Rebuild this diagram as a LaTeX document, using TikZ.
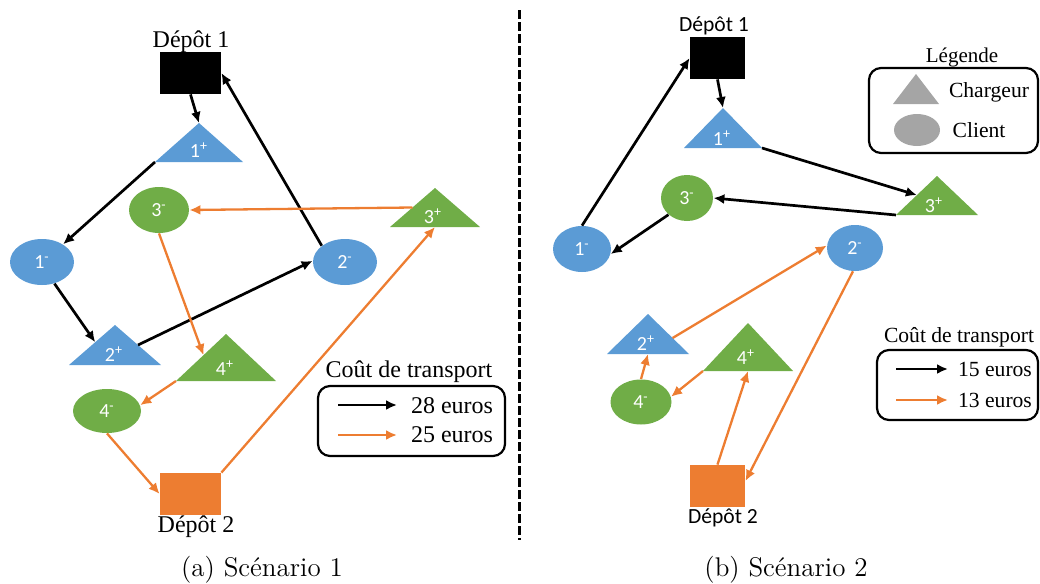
\documentclass[tikz,border=0pt]{standalone}
\usepackage{fontspec}
\newfontfamily\tnr{Liberation Serif}
\newfontfamily\calf{Carlito}
\usetikzlibrary{arrows.meta,calc,shapes.geometric}
\definecolor{cblue}{HTML}{5B9BD5}
\definecolor{cgreen}{HTML}{70AD47}
\definecolor{corange}{HTML}{ED7D31}
\definecolor{cgray}{HTML}{A5A5A5}
\newcommand\mytri[6]{%
  \coordinate (#1-a) at (#2,#3);
  \coordinate (#1-l) at ({#2-#5},#4);
  \coordinate (#1-r) at ({#2+#5},#4);
  \coordinate (#1-b) at (#2,#4);
  \fill[#6] (#1-a)--(#1-l)--(#1-r)--cycle;}
\tikzset{
  bk/.style={draw=black, line width=1.35pt, -{Latex[length=5.5pt,width=5pt]}},
  orr/.style={draw=corange, line width=1.15pt, -{Latex[length=5.5pt,width=5pt]}},
  ell/.style={ellipse, inner sep=0pt, text=white, font=\calf\fontsize{10}{10}\selectfont},
  lab/.style={inner sep=0pt, text=white, font=\calf\fontsize{10}{10}\selectfont},
  depot/.style={inner sep=0pt, draw=none},
  tl/.style={inner sep=0pt, font=\tnr\fontsize{12}{14}\selectfont},
  tr/.style={inner sep=0pt, font=\tnr\fontsize{10.8}{12}\selectfont},
  cl/.style={inner sep=0pt, font=\calf\fontsize{10.8}{12}\selectfont},
  legbox/.style={draw=black, line width=1.1pt, rounded corners=6pt, inner sep=0pt},
  captxt/.style={inner sep=0pt, font=\fontsize{13.5}{15}\selectfont},
}
\begin{document}
\begin{tikzpicture}[x=0.5pt,y=-0.5pt]
\useasboundingbox (0,0) rectangle (1040,584);
% ---------------- Scenario 1 ----------------
\node[tl] (l1d1) at (191,42) {Dépôt 1};
\node[depot, fill=black, minimum width=30.5pt, minimum height=21pt] (D1a) at (190.5,73) {};
\mytri{t1a}{199}{123}{162}{44}{cblue}
\node[lab] (n1pa) at (199,150) {1\textsuperscript{+}};
\node[ell, fill=cgreen, minimum width=30pt, minimum height=23pt] (e3m) at (159,210) {3\textsuperscript{-}};
\mytri{t3a}{435}{188}{227}{45}{cgreen}
\node[lab] (n3pa) at (433,216) {3\textsuperscript{+}};
\node[ell, fill=cblue, minimum width=32pt, minimum height=23pt] (e1m) at (42,262) {1\textsuperscript{-}};
\node[ell, fill=cblue, minimum width=32pt, minimum height=23pt] (e2m) at (345,262) {2\textsuperscript{-}};
\mytri{t2a}{115}{325}{365}{46}{cblue}
\node[lab] (n2pa) at (114,354) {2\textsuperscript{+}};
\mytri{t4a}{226}{334}{381}{50}{cgreen}
\node[lab] (n4pa) at (225,368) {4\textsuperscript{+}};
\node[ell, fill=cgreen, minimum width=34pt, minimum height=22pt] (e4m) at (107,411) {4\textsuperscript{-}};
\node[depot, fill=corange, minimum width=30.5pt, minimum height=21pt] (D2a) at (190.5,494) {};
\node[tl] (l1d2) at (196,527) {Dépôt 2};
% edges
\draw[bk] (D1a.south) -- (t1a-a);
\draw[bk] (t1a-l) -- (e1m.40);
\draw[bk] (e1m.-60) -- ($(t2a-a)!0.43!(t2a-l)$);
\draw[bk] ($(t2a-a)!0.5!(t2a-r)$) -- (e2m.178);
\draw[bk] (e2m.145) -- (D1a.east);
\draw[orr] ($(t3a-a)!0.5!(t3a-l)$) -- (e3m.east);
\draw[orr] (e3m.south) -- ($(t4a-a)!0.45!(t4a-l)$);
\draw[orr] (t4a-l) -- (e4m.10);
\draw[orr] (e4m.south) -- (D2a.west);
\draw[orr] (D2a.north east) -- (t3a-b);
% legend
\node[tl] (ctta) at (409,372) {Coût de transport};
\node[legbox, minimum width=93.5pt, minimum height=35pt] (lega) at (411.5,421) {};
\coordinate (la1s) at (338,405); \coordinate (la1e) at (397,405);
\coordinate (la2s) at (338,435); \coordinate (la2e) at (397,435);
\draw[bk] (la1s) -- (la1e);
\draw[orr] (la2s) -- (la2e);
\node[tl] (la1t) at (452,406) {28 euros};
\node[tl] (la2t) at (452,435) {25 euros};
% separator
\coordinate (sept) at (519,10); \coordinate (sepb) at (519,540);
\draw[line width=1.5pt, dash pattern=on 4.5pt off 1.5pt] (sept) -- (sepb);
% ---------------- Scenario 2 ----------------
\node[cl] (l2d1) at (714,26) {Dépôt 1};
\node[depot, fill=black, minimum width=27.5pt, minimum height=21pt] (D1b) at (717.5,58) {};
\mytri{t1b}{723}{108}{148}{39}{cblue}
\node[lab] (n1pb) at (722,138) {1\textsuperscript{+}};
\node[ell, fill=cgreen, minimum width=26pt, minimum height=23pt] (e3mb) at (687,198) {3\textsuperscript{-}};
\mytri{t3b}{937}{176}{215}{41}{cgreen}
\node[lab] (n3pb) at (934,205) {3\textsuperscript{+}};
\node[ell, fill=cblue, minimum width=29pt, minimum height=23pt] (e1mb) at (582,249) {1\textsuperscript{-}};
\node[ell, fill=cblue, minimum width=28pt, minimum height=23pt] (e2mb) at (855,248) {2\textsuperscript{-}};
\mytri{t2b}{648}{314}{354}{41}{cblue}
\node[lab] (n2pb) at (646,343) {2\textsuperscript{+}};
\mytri{t4b}{748}{323}{371}{45}{cgreen}
\node[lab] (n4pb) at (746,357) {4\textsuperscript{+}};
\node[ell, fill=cgreen, minimum width=30.5pt, minimum height=22.5pt] (e4mb) at (641,402) {4\textsuperscript{-}};
\node[depot, fill=corange, minimum width=27.5pt, minimum height=21pt] (D2b) at (717.5,486) {};
\node[cl] (l2d2) at (723,518) {Dépôt 2};
% edges
\draw[bk] (D1b.south) -- (t1b-a);
\draw[bk] (t1b-r) -- ($(t3b-a)!0.49!(t3b-l)$);
\draw[bk] (t3b-l) -- (e3mb.east);
\draw[bk] (e3mb.-138) -- (e1mb.-10);
\draw[bk] (e1mb.north) -- (D1b.west);
\draw[orr] ($(t2b-a)!0.6!(t2b-r)$) -- (e2mb.175);
\draw[orr] (e2mb.-95) -- (D2b.10);
\draw[orr] (D2b.north) -- (t4b-b);
\draw[orr] (t4b-l) -- (e4mb.10);
\draw[orr] (e4mb.north) -- (t2b-b);
% legend (types)
\node[tr, font=\tnr\fontsize{10.5}{12}\selectfont] (legt) at (962,57) {Légende};
\node[legbox, minimum width=84.5pt, minimum height=42.5pt] (legb) at (953.5,110.5) {};
\mytri{lgt}{916}{74}{104}{23}{cgray}
\node[tr] (lchg) at (989,92) {Chargeur};
\node[ellipse, fill=cgray, inner sep=0pt, minimum width=23pt, minimum height=16pt] (lcle) at (917,130) {};
\node[tr] (lcli) at (979,130) {Client};
% legend (cost)
\node[tr] (cttb) at (959,337) {Coût de transport};
\node[legbox, minimum width=80.5pt, minimum height=35pt] (legc) at (957.5,385) {};
\coordinate (lb1s) at (896,369); \coordinate (lb1e) at (948,369);
\coordinate (lb2s) at (896,400); \coordinate (lb2e) at (948,400);
\draw[bk] (lb1s) -- (lb1e);
\draw[orr] (lb2s) -- (lb2e);
\node[tr] (lb1t) at (995,369) {15 euros};
\node[tr] (lb2t) at (995,400) {13 euros};
% captions
\node[captxt] (capa) at (262,570) {(a) Scénario 1};
\node[captxt] (capb) at (786,570) {(b) Scénario 2};
\end{tikzpicture}
\end{document}
